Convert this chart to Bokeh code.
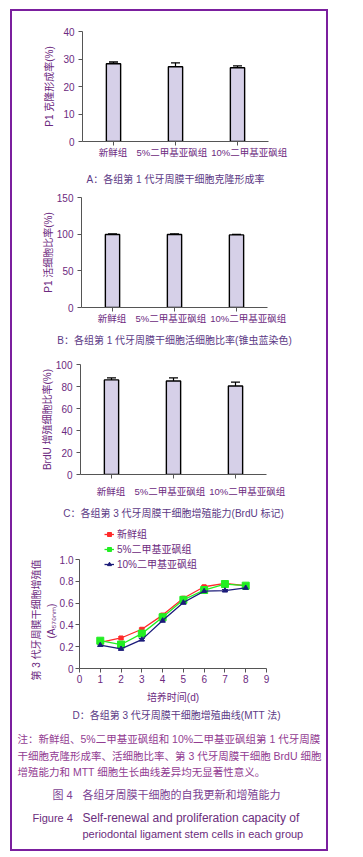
from bokeh.plotting import figure
from bokeh.models import (Range1d, Whisker, TeeHead, ColumnDataSource, LinearAxis,
                          Title, Label, Legend, LegendItem, FixedTicker, PrintfTickFormatter)
from bokeh.layouts import column, row
from bokeh.embed import file_html
from bokeh.resources import INLINE

# ---------------- data ----------------
groups = ["新鲜组", "5%二甲基亚砜组", "10%二甲基亚砜组"]
colony_rate = [28.3, 27.2, 26.8]
colony_err = [0.6, 1.4, 0.7]
viable_rate = [99.6, 99.5, 99.0]
viable_err = [0.6, 0.9, 0.5]
brdu_rate = [86.0, 85.0, 80.5]
brdu_err = [1.8, 2.8, 3.5]

days = [1, 2, 3, 4, 5, 6, 7, 8]
mtt_fresh = [0.24, 0.28, 0.36, 0.49, 0.645, 0.75, 0.78, 0.76]
mtt_fresh_err = [0.01, 0.01, 0.01, 0.015, 0.015, 0.01, 0.01, 0.015]
mtt_5 = [0.255, 0.22, 0.32, 0.47, 0.63, 0.72, 0.775, 0.76]
mtt_5_err = [0.01, 0.02, 0.015, 0.015, 0.02, 0.015, 0.01, 0.02]
mtt_10 = [0.215, 0.18, 0.265, 0.44, 0.605, 0.71, 0.715, 0.74]
mtt_10_err = [0.01, 0.01, 0.01, 0.015, 0.015, 0.015, 0.01, 0.015]

series_names = ["新鲜组", "5%二甲基亚砜组", "10%二甲基亚砜组"]

FONT = "'Liberation Sans', 'Noto Sans CJK SC', sans-serif"
TICK_C = "#6c2a80"
CAP_C = "#5c3a86"
AXIS_C = "#555555"
W = 314

# where the group names sit under the bars (the original places them a bit unevenly)
label_shift = [-0.01, -0.06, 0.19]


def style_axis(ax):
    ax.axis_line_color = AXIS_C
    ax.major_tick_line_color = AXIS_C
    ax.major_tick_in = 0
    ax.major_tick_out = 4
    ax.minor_tick_line_color = None
    ax.major_label_text_font = FONT
    ax.major_label_text_font_size = "10px"
    ax.major_label_text_color = TICK_C
    ax.axis_label_text_font = FONT
    ax.axis_label_text_font_size = "10px"
    ax.axis_label_text_font_style = "normal"
    ax.axis_label_text_color = TICK_C


def style_fig(p):
    for ax in (p.xaxis, p.yaxis):
        style_axis(ax)
    p.xgrid.visible = False
    p.ygrid.visible = False
    p.outline_line_color = None


def bar_panel(vals, errs, ymax, ticks, ylabel, cap, h, top, left, lab_standoff,
              ylab_standoff, cap_center, cap_standoff):
    frame_h = 110
    xs = [i + 0.5 for i in range(len(groups))]
    src = ColumnDataSource(dict(x=xs, v=vals, up=[v + e for v, e in zip(vals, errs)]))
    p = figure(x_range=Range1d(0, len(groups)), y_range=Range1d(0, ymax),
               width=W, height=h, min_border_left=left, min_border_right=W - left - 186,
               min_border_top=top, min_border_bottom=h - top - frame_h,
               output_backend="svg", toolbar_location=None)
    p.vbar(x="x", top="v", width=0.23, source=src, fill_color="#d6d0e8",
           line_color="black", line_width=1.4)
    p.add_layout(Whisker(base="x", lower="v", upper="up", source=src,
                         line_color="black", line_width=1.2, lower_head=None,
                         upper_head=TeeHead(size=9, line_color="black", line_width=1.4)))
    style_fig(p)
    # axis line with small tick marks under the bars (minor ticks only, no text)
    p.xaxis.ticker = FixedTicker(ticks=[], minor_ticks=xs)
    p.xaxis.minor_tick_line_color = AXIS_C
    p.xaxis.minor_tick_in = 0
    p.xaxis.minor_tick_out = 4
    p.xaxis.major_label_standoff = 0
    # text-only axis carrying the group names and the panel caption
    lab_pos = [x + s for x, s in zip(xs, label_shift)]
    lab_ax = LinearAxis(ticker=FixedTicker(ticks=lab_pos),
                        major_label_overrides={pp: g for pp, g in zip(lab_pos, groups)})
    style_axis(lab_ax)
    lab_ax.axis_line_color = None
    lab_ax.major_tick_out = 0
    lab_ax.major_label_text_font_size = "9.5px"
    lab_ax.major_label_standoff = lab_standoff
    lab_ax.bounds = (0, 2 * cap_center)
    lab_ax.axis_label = cap
    lab_ax.axis_label_standoff = cap_standoff
    lab_ax.axis_label_text_color = CAP_C
    p.add_layout(lab_ax, "below")

    p.yaxis.ticker = FixedTicker(ticks=ticks)
    p.yaxis.axis_label = ylabel
    p.yaxis.axis_label_standoff = ylab_standoff
    p.yaxis.major_label_standoff = 4
    return p


pA = bar_panel(colony_rate, colony_err, 40, [0, 10, 20, 30, 40], "P1 克隆形成率(%)",
               "A：各组第 1 代牙周膜干细胞克隆形成率", 177, 20, 70, 1, 5, 1.395, 13)
pB = bar_panel(viable_rate, viable_err, 150, [0, 50, 100, 150], "P1 活细胞比率(%)",
               "B：各组第 1 代牙周膜干细胞活细胞比率(锥虫蓝染色)", 167, 9, 69, 1, 0, 1.40, 8)
pC = bar_panel(brdu_rate, brdu_err, 100, [0, 20, 40, 60, 80, 100], "BrdU 增殖细胞比率(%)",
               "C：各组第 3 代牙周膜干细胞增殖能力(BrdU 标记)", 170, 9, 68, 7, 0, 1.395, 8)

# ---------------- panel D ----------------
D_H = 197
D_TOP = 0
D_FRAME = 143
y_end = D_FRAME / 109.0   # room above 1.0 for the legend; the axis itself stops at 1.0
pD = figure(x_range=Range1d(0, 9), y_range=Range1d(0, y_end), width=W, height=D_H,
            min_border_left=67, min_border_right=W - 67 - 187, min_border_top=D_TOP,
            min_border_bottom=D_H - D_TOP - D_FRAME, output_backend="svg",
            toolbar_location=None)
style_fig(pD)
pD.yaxis.bounds = (0, 1)
pD.xaxis.ticker = FixedTicker(ticks=list(range(10)))
pD.yaxis.ticker = FixedTicker(ticks=[0, 0.2, 0.4, 0.6, 0.8, 1.0])
pD.yaxis.formatter = PrintfTickFormatter(format="%.1f")
pD.yaxis.major_label_overrides = {0: "0"}
pD.xaxis.major_label_standoff = 2
pD.yaxis.major_label_standoff = 2
pD.xaxis.axis_label = "培养时间(d)"
pD.xaxis.axis_label_standoff = 6

# two-line y title, placed like the original (bottom-aligned line 1, centred line 2)
for txt, off, so in [("(A₅₇₀ₙₘ)", 30, 0), ("第 3 代牙周膜干细胞增殖值", -12, 4)]:
    pD.add_layout(Title(text=txt, align="left", offset=off, text_font=FONT,
                        text_font_size="10px", text_font_style="normal",
                        text_color=TICK_C, standoff=so), "left")

items = []
specs = [
    (mtt_fresh, mtt_fresh_err, "#ff2a2a", "square", 4),
    (mtt_5, mtt_5_err, "#22ee22", "square", 7),
    (mtt_10, mtt_10_err, "#1c1c7a", "triangle", 5),
]
for name, (vals, errs, col, mk, sz) in zip(series_names, specs):
    src = ColumnDataSource(dict(x=days, y=vals,
                                lo=[v - e for v, e in zip(vals, errs)],
                                hi=[v + e for v, e in zip(vals, errs)]))
    pD.add_layout(Whisker(base="x", lower="lo", upper="hi", source=src,
                          line_color=col, line_width=1,
                          lower_head=TeeHead(size=6, line_color=col, line_width=1),
                          upper_head=TeeHead(size=6, line_color=col, line_width=1)))
    l = pD.line("x", "y", source=src, line_color=col, line_width=1.3)
    s = pD.scatter("x", "y", source=src, marker=mk, size=sz, fill_color=col, line_color=col)
    items.append(LegendItem(label=name, renderers=[l, s]))

leg = Legend(items=items, location=(25, 97), padding=0, margin=0, spacing=0,
             label_height=12, glyph_height=12, glyph_width=10, label_standoff=3,
             border_line_color=None, background_fill_alpha=0,
             label_text_font=FONT, label_text_font_size="10px", label_text_color=TICK_C)
pD.add_layout(leg)
pD.add_layout(Title(text="D：各组第 3 代牙周膜干细胞增殖曲线(MTT 法)", align="left", offset=-7,
                    text_font=FONT, text_font_size="10px", text_font_style="normal",
                    text_color=CAP_C, standoff=4), "below")

# ---------------- notes ----------------
pT = figure(x_range=Range1d(0, W), y_range=Range1d(127, 0), width=W, height=127,
            min_border=0, x_axis_type=None, y_axis_type=None,
            output_backend="svg", toolbar_location=None)
pT.outline_line_color = None
pT.xgrid.visible = False
pT.ygrid.visible = False

note_lines = [
    "注：新鲜组、5%二甲基亚砜组和 10%二甲基亚砜组第 1 代牙周膜",
    "干细胞克隆形成率、活细胞比率、第 3 代牙周膜干细胞 BrdU 细胞",
    "增殖能力和 MTT 细胞生长曲线差异均无显著性意义。",
]
for txt, yy in zip(note_lines, [16, 33, 49]):
    pT.add_layout(Label(x=5, y=yy, text=txt, text_font=FONT, text_font_size="10.5px",
                        text_color="#923c92", text_baseline="middle"))

fig_texts = [
    ("图 4", 40, 72, "#7b3f93", "11px"),
    ("各组牙周膜干细胞的自我更新和增殖能力", 70, 72, "#7b3f93", "11px"),
    ("Figure 4", 20, 95, "#6b2d7d", "11px"),
    ("Self-renewal and proliferation capacity of", 70, 95, "#6b2d7d", "12px"),
    ("periodontal ligament stem cells in each group", 70, 111, "#6b2d7d", "11px"),
]
for txt, xx, yy, col, fs in fig_texts:
    pT.add_layout(Label(x=xx, y=yy, text=txt, text_font=FONT, text_font_size=fs,
                        text_color=col, text_baseline="middle"))

page = column(row(pA), row(pB), row(pC), row(pD), row(pT), margin=(9, 0, 0, 10),
              styles={"border": "2px solid #7b1f9e"})

open("out.html", "w").write(file_html(page, INLINE))
